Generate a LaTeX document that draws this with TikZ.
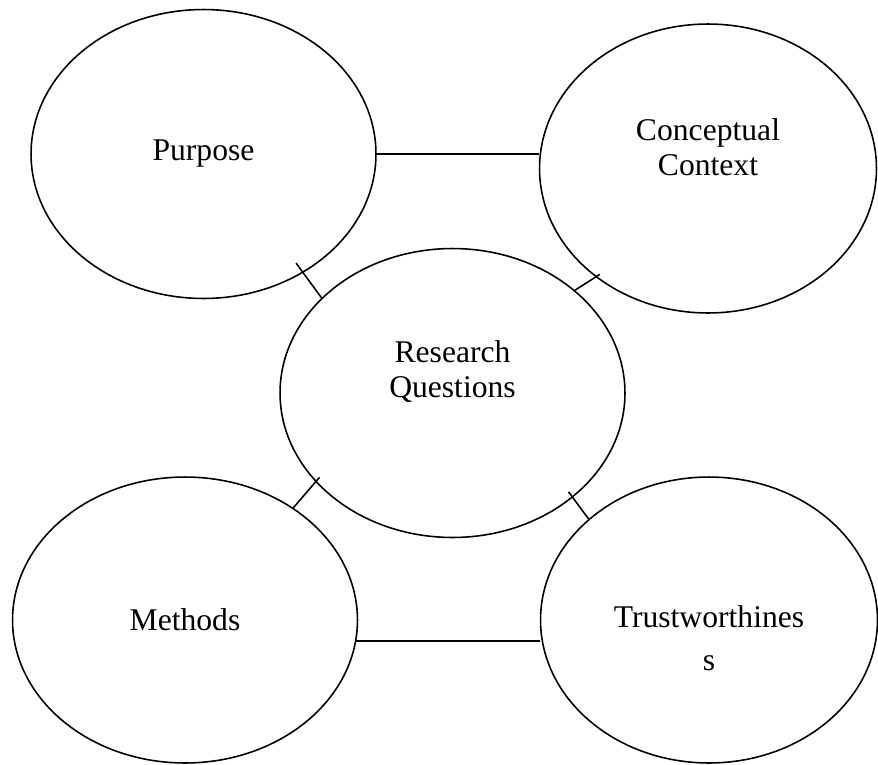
\documentclass[tikz,border=0pt]{standalone}
\usepackage{fontspec}
\setmainfont{Liberation Serif}
\usetikzlibrary{shapes.geometric}
\tikzset{
  bubble/.style={ellipse, draw=black, line width=0.9pt, minimum width=6.9cm, minimum height=5.78cm, inner sep=0pt},
  narrow/.style={minimum width=6.74cm},
  txt/.style={align=center, font=\fontsize{18}{21}\selectfont},
  link/.style={line width=0.9pt}
}
\begin{document}
\begin{tikzpicture}[x=0.02cm, y=-0.02cm]
	\useasboundingbox (0,0) rectangle (878,764);
	\node[bubble, label={[txt]center:Purpose}] (purpose) at (203.5,154) {};
	\node[bubble, narrow, label={[txt, font=\fontsize{18}{20}\selectfont, yshift=0.42cm]center:Conceptual\\Context}] (concept) at (708,168.5) {};
	\node[bubble, label={[txt, font=\fontsize{18}{19.5}\selectfont, yshift=0.43cm]center:Research\\Questions}] (rq) at (452.5,393) {};
	\node[bubble, minimum height=5.72cm, label={[txt]center:Methods}] (methods) at (185,620) {};
	\node[bubble, narrow, minimum height=5.72cm, label={[txt, font=\fontsize{18}{24.5}\selectfont, yshift=-0.36cm]center:Trustworthines\\s}] (trust) at (709,620) {};
	\draw[link] (purpose.east) -- (purpose.east -| concept.west);
	\draw[link, shorten <=-0.24cm] (purpose.-50.7) -- (rq.144.8);
	\draw[link, shorten >=-0.1cm] (rq.40.9) -- (concept.224.6);
	\draw[link, shorten >=-0.12cm] (methods.46.5) -- (rq.213.5);
	\draw[link, shorten >=-0.14cm] (trust.140.4) -- (rq.-41.8);
	\draw[link] (methods.-7.3) -- (methods.-7.3 -| trust.west);
\end{tikzpicture}
\end{document}
